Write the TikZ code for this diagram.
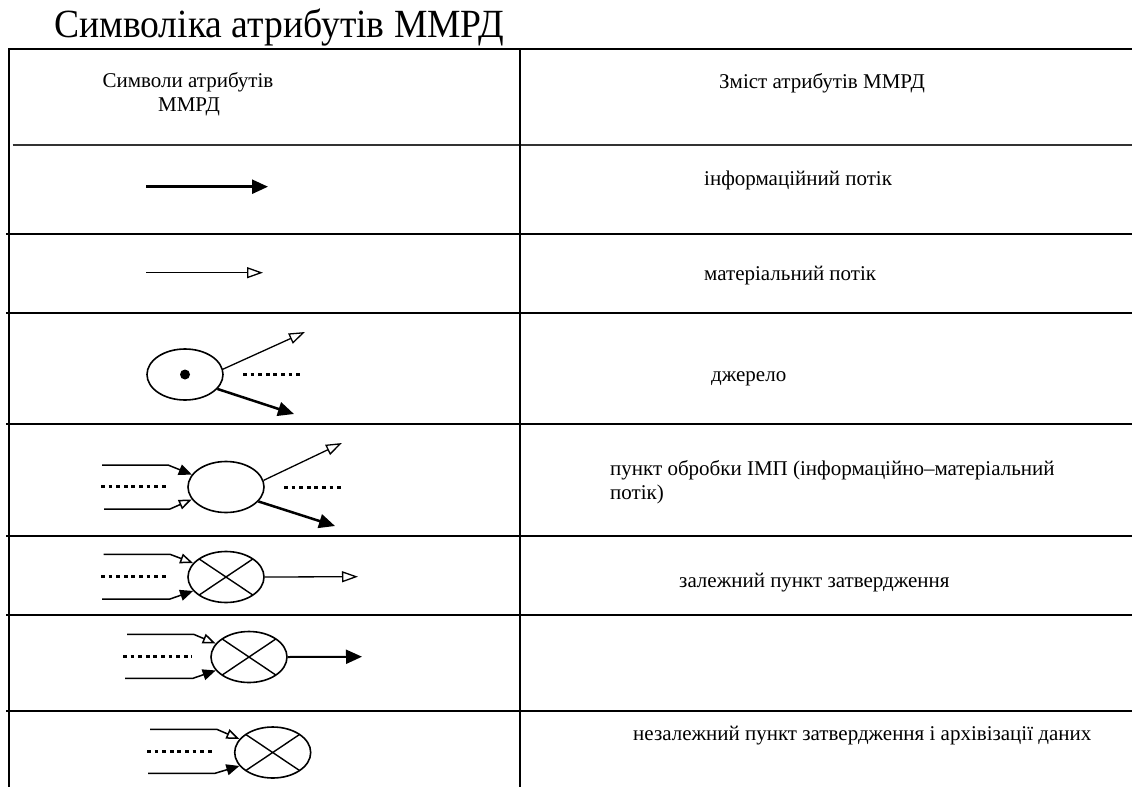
\documentclass[tikz,border=0pt]{standalone}
\usepackage{fontspec}
\setmainfont{Liberation Serif}
\usetikzlibrary{arrows.meta,shapes.geometric}

\tikzset{
  rule/.style={line width=2pt},
  ell/.style={ellipse, draw, line width=1.6pt, minimum width=76pt, minimum height=51pt, inner sep=0pt},
  crossed/.style={ell, path picture={
      \draw[line width=1.4pt]
        (path picture bounding box.north west) -- (path picture bounding box.south east)
        (path picture bounding box.south west) -- (path picture bounding box.north east);}},
  iflow/.style={line width=2.5pt, -{Triangle[length=16pt,width=14pt]}},
  mflow/.style={line width=1.3pt, -{Triangle[open,length=16pt,width=11pt]}},
  iin/.style={line width=1.5pt, -{Triangle[length=13pt,width=11pt]}},
  matin/.style={line width=1.5pt, -{Triangle[open,length=13pt,width=10pt]}},
  dots/.style={line width=3pt, dash pattern=on 3.8pt off 3.8pt},
  lbl/.style={anchor=base west, inner sep=0pt, font=\fontsize{21}{24}\selectfont},
  hdr/.style={anchor=base, inner sep=0pt, font=\fontsize{21}{24}\selectfont},
}

\begin{document}
\begin{tikzpicture}[x=1pt,y=-1pt]
\useasboundingbox (0,0) rectangle (1132,787);

% title
\node[anchor=base west, inner sep=0pt, xscale=0.94, font=\fontsize{40}{48}\selectfont] (title) at (54,37) {Символіка атрибутів ММРД};

% table rules
\draw[rule] (9,49) -- (1132,49);
\draw[rule, line width=1.6pt, black!80] (12.5,145) -- (1132,145);
\foreach \y in {234,313,424,536,615,711} \draw[rule] (6,\y) -- (1132,\y);
\draw[rule] (9,48) -- (9,787);
\draw[rule] (520,48) -- (520,787);

% header
\node[hdr] (h1) at (188,87) {Символи атрибутів};
\node[hdr] (h2) at (189,111) {ММРД};
\node[lbl] (h3) at (719,88) {Зміст атрибутів ММРД};

% descriptions
\node[lbl] (t1) at (704,185) {інформаційний потік};
\node[lbl] (t2) at (704,280) {матеріальний потік};
\node[lbl] (t3) at (711,381) {джерело};
\node[lbl] (t4) at (610,475) {пункт обробки ІМП (інформаційно–матеріальний};
\node[lbl] (t4b) at (610,499) {потік)};
\node[lbl] (t5) at (679,587) {залежний пункт затвердження};
\node[lbl] (t7) at (633,740) {незалежний пункт затвердження і архівізації даних};

% information flow
\coordinate (a1) at (146,186.7);
\coordinate (b1) at (268,186.7);
\draw[iflow] (a1) -- (b1);

% material flow
\coordinate (a2) at (146,272.7);
\coordinate (b2) at (263,272.7);
\draw[mflow] (a2) -- (b2);

% source
\node[ell] (src) at (185,374.5) {};
\fill (src.center) circle (5pt);
\coordinate (src-up) at (305,332);
\coordinate (src-lo) at (294,414);
\coordinate (src-d1) at (243,374);
\coordinate (src-d2) at (300,374);
\draw[mflow] (src.8) -- (src-up);
\draw[dots] (src-d1) -- (src-d2);
\draw[iflow] (src.-24) -- (src-lo);

% processing point
\node[ell] (proc) at (226,487) {};
\coordinate (p-a1) at (102,465);
\coordinate (p-b1) at (168,465);
\coordinate (p-d1) at (101,486.7);
\coordinate (p-d2) at (168,486.7);
\coordinate (p-a2) at (104,509);
\coordinate (p-b2) at (170,509);
\draw[iin] (p-a1) -- (p-b1) -- (proc.160);
\draw[dots] (p-d1) -- (p-d2);
\draw[matin] (p-a2) -- (p-b2) -- (proc.200);
\coordinate (p-up) at (342,443);
\coordinate (p-o1) at (284,487);
\coordinate (p-o2) at (341,487);
\coordinate (p-lo) at (335,526);
\draw[mflow] (proc.10) -- (p-up);
\draw[dots] (p-o1) -- (p-o2);
\draw[iflow] (proc.-24) -- (p-lo);

% dependent approval point
\node[crossed] (dep) at (226,577) {};
\coordinate (d-a1) at (103.6,554.3);
\coordinate (d-b1) at (170,554.3);
\coordinate (d-d1) at (101,576.7);
\coordinate (d-d2) at (168,576.7);
\coordinate (d-a2) at (102,599);
\coordinate (d-b2) at (170,599);
\coordinate (d-out) at (358,576.7);
\draw[matin] (d-a1) -- (d-b1) -- (dep.157);
\draw[dots] (d-d1) -- (d-d2);
\draw[iin] (d-a2) -- (d-b2) -- (dep.203);
\draw[mflow] (dep.east) -- (d-out);

% approval point with information output
\node[crossed] (ind) at (249,657) {};
\coordinate (i-a1) at (127,634.3);
\coordinate (i-b1) at (193.6,634.3);
\coordinate (i-d1) at (123,656);
\coordinate (i-d2) at (192,656);
\coordinate (i-a2) at (125,678.3);
\coordinate (i-b2) at (193,678.3);
\coordinate (i-out) at (362,656.7);
\draw[matin] (i-a1) -- (i-b1) -- (ind.158);
\draw[dots] (i-d1) -- (i-d2);
\draw[iin] (i-a2) -- (i-b2) -- (ind.202);
\draw[iflow, line width=2pt] (ind.east) -- (i-out);

% independent approval and archiving point
\node[crossed] (arc) at (272.7,752.5) {};
\coordinate (r-a1) at (150,729.3);
\coordinate (r-b1) at (216.8,729.3);
\coordinate (r-d1) at (147,751.7);
\coordinate (r-d2) at (215,751.7);
\coordinate (r-a2) at (148,773.3);
\coordinate (r-b2) at (215,773.3);
\draw[matin] (r-a1) -- (r-b1) -- (arc.158);
\draw[dots] (r-d1) -- (r-d2);
\draw[iin] (r-a2) -- (r-b2) -- (arc.202);
\end{tikzpicture}
\end{document}
